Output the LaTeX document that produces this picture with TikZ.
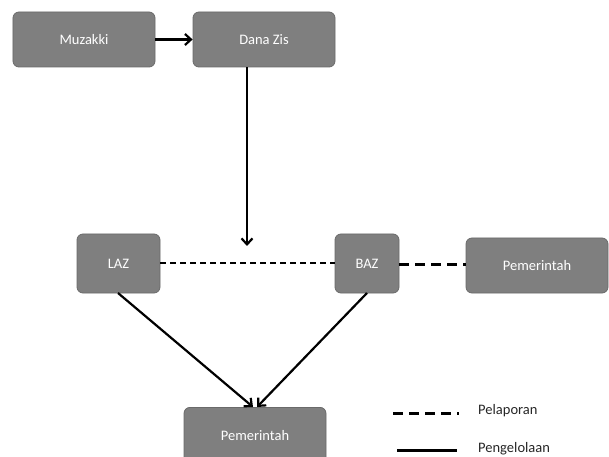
\documentclass[tikz,border=0pt]{standalone}
\usepackage{fontspec}
\setmainfont{Carlito}
\usetikzlibrary{arrows.meta}
\definecolor{boxfill}{HTML}{7F7F7F}
\definecolor{boxline}{HTML}{6A6A6A}
\begin{document}
\begin{tikzpicture}[x=1bp,y=-1bp,
  box/.style={draw=boxline,fill=boxfill,rounded corners=6bp,line width=0.8bp,
    text=white,font=\fontsize{14.5bp}{16bp}\selectfont,inner sep=0pt},
  conn/.style={line width=2.2bp,black},
  arr/.style={conn,-{Straight Barb[length=6bp,width=11bp,line width=2.2bp]}},
  dash1/.style={line width=2.2bp,dash pattern=on 6bp off 4bp},
  dash2/.style={line width=3bp,dash pattern=on 10bp off 6bp},
  legtext/.style={font=\fontsize{14.5bp}{16bp}\selectfont,text=black!85,anchor=west,inner sep=0pt}]
\useasboundingbox (0,0) rectangle (609,457);
\node[box,minimum width=142bp,minimum height=55bp] (muz) at (84,39.5) {Muzakki};
\node[box,minimum width=142bp,minimum height=55bp] (dana) at (264,39.5) {Dana Zis};
\node[box,minimum width=83bp,minimum height=59bp] (laz) at (118.5,263.5) {LAZ};
\node[box,minimum width=64bp,minimum height=59bp] (baz) at (367,263.5) {BAZ};
\node[box,minimum width=142bp,minimum height=55bp] (pemr) at (537,265.5) {Pemerintah};
\node[box,minimum width=142bp,minimum height=56bp,anchor=north] (pemb) at (255,407) {Pemerintah};
\coordinate (danaend) at (247,246);
\draw[arr] (muz.east) -- (dana.west);
\draw[arr] (dana.south -| danaend) -- (danaend);
\draw[dash1] (laz.east |- 0,263) -- (baz.west |- 0,263);
\draw[dash2] (baz.east |- 0,265) -- (pemr.west |- 0,265);
\coordinate (lazout) at (118,293);
\coordinate (bazout) at (367,293);
\draw[arr] (lazout) -- (253,407);
\draw[arr] (bazout) -- (257,407);
\coordinate (l1a) at (393,413);
\coordinate (l1b) at (459,413);
\coordinate (l2a) at (397,450);
\coordinate (l2b) at (457,450);
\draw[dash2] (l1a) -- (l1b);
\draw[line width=3bp] (l2a) -- (l2b);
\node[legtext] (leg1) at (478,411) {Pelaporan};
\node[legtext] (leg2) at (478,449) {Pengelolaan};
\end{tikzpicture}
\end{document}
